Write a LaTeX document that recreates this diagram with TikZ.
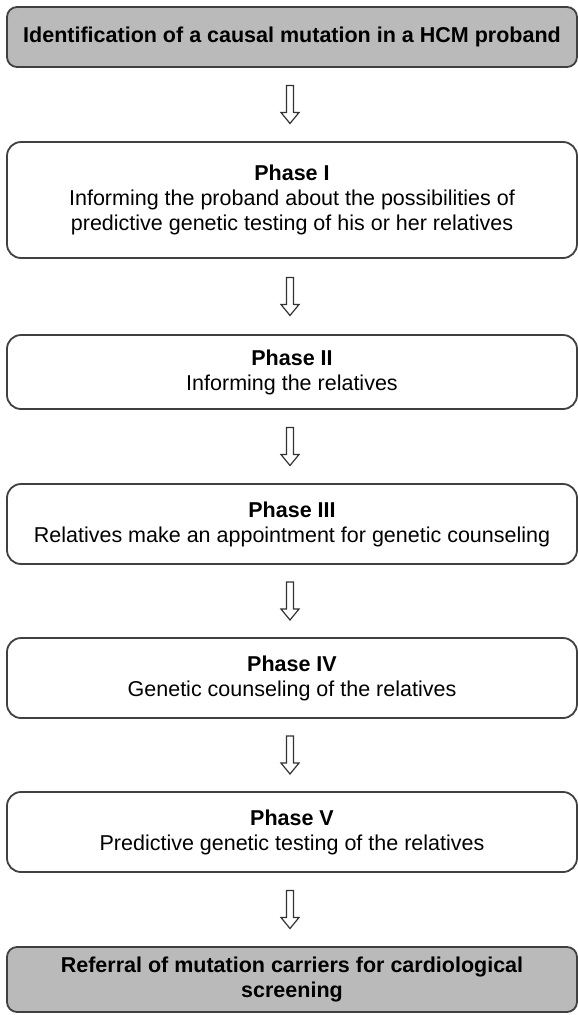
\documentclass[tikz,border=0pt]{standalone}
\usepackage{fontspec}
\setmainfont{Liberation Sans}
\usetikzlibrary{calc}
\tikzset{
  x=1pt,y=1pt,
  box/.style={draw=black!75, line width=1.8pt, rounded corners=14pt, minimum width=570pt,
    align=center, inner sep=0pt, text=black,
    font=\fontsize{21.5pt}{25pt}\selectfont},
  graybox/.style={box, fill=black!27, rounded corners=10pt},
  whitebox/.style={box, fill=white},
  hollowarrow/.pic={\draw[line width=1.2pt, draw=black!80, fill=white, line join=miter]
     (-3.5,19) -- (3.5,19) -- (3.5,-8) -- (9,-8) -- (0,-19) -- (-9,-8) -- (-3.5,-8) -- cycle;}
}
\begin{document}
\begin{tikzpicture}
\useasboundingbox (0,0) rectangle (578,-1015);
\node[graybox, minimum height=60pt] (b0) at (292,-37) {\bfseries Identification of a causal mutation in a HCM proband};
\node[whitebox, minimum height=116pt] (b1) at (292,-200) {\bfseries Phase I\\Informing the proband about the possibilities of\\predictive genetic testing of his or her relatives};
\node[whitebox, minimum height=74pt] (b2) at (292,-372) {\bfseries Phase II\\Informing the relatives};
\node[whitebox, minimum height=80pt] (b3) at (292,-524) {\bfseries Phase III\\Relatives make an appointment for genetic counseling};
\node[whitebox, minimum height=80pt] (b4) at (292,-678) {\bfseries Phase IV\\Genetic counseling of the relatives};
\node[whitebox, minimum height=80pt] (b5) at (292,-832) {\bfseries Phase V\\Predictive genetic testing of the relatives};
\node[graybox, minimum height=65pt] (b6) at (292,-979.5) {\bfseries Referral of mutation carriers for cardiological\\\bfseries screening};
\foreach \a/\b in {b0/b1,b1/b2,b2/b3,b3/b4,b4/b5,b5/b6}{
  \coordinate (m\a) at ($(\a.south)!0.5!(\b.north)$);
  \pic at ([xshift=-2pt]m\a) {hollowarrow};
}
\end{tikzpicture}
\end{document}
